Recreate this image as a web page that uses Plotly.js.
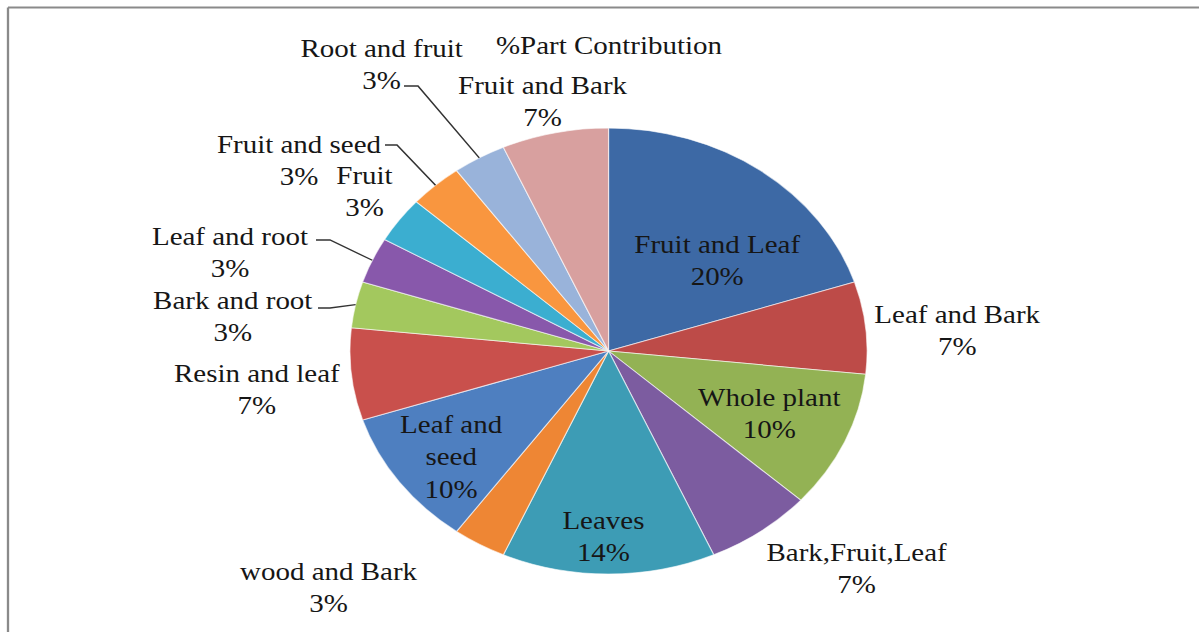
<!DOCTYPE html>
<html>
<head>
<meta charset="utf-8">
<script src="https://cdn.plot.ly/plotly-3.0.1.min.js"></script>
<style>
  html, body { margin: 0; padding: 0; background: #ffffff; overflow: hidden; }
  #wrap { width: 1199px; height: 632px; overflow: hidden; position: relative; background: #ffffff; }
  #chart { width: 1034px; height: 632px; transform-origin: 0 0; transform: scaleX(1.15957); }
</style>
</head>
<body>
<div id="wrap"><div id="chart"></div></div>
<script>
// ---------------- data ----------------
const categories = [
  'Fruit and Leaf', 'Leaf and Bark', 'Whole plant', 'Bark,Fruit,Leaf', 'Leaves',
  'wood and Bark', 'Leaf and seed', 'Resin and leaf', 'Bark and root', 'Leaf and root',
  'Fruit', 'Fruit and seed', 'Root and fruit', 'Fruit and Bark'
];
const partCounts = [6, 2, 3, 2, 4, 1, 3, 2, 1, 1, 1, 1, 1, 2];
const percentLabels = ['20%', '7%', '10%', '7%', '14%', '3%', '10%', '7%', '3%', '3%', '3%', '3%', '3%', '7%'];
const chartTitle = '%Part Contribution';

// ---------------- style / layout ----------------
const sliceColors = [
  '#3D69A5', '#BD4B48', '#93B254', '#7C5CA0', '#3D9CB5', '#EE8634', '#4E7FC0',
  '#C9504C', '#A3C85E', '#8858AB', '#3BAED0', '#F9963F', '#99B3DA', '#D8A09F'
];

const FULL_W = 1199, H = 632, PLOT_W = 1034, SX = FULL_W / PLOT_W;
const PIE_CX = 524.8, PIE_CY = 351, PIE_R = 223;   // rendered px (before horizontal stretch)
const FONT = '"Liberation Serif", "Times New Roman", serif';

// label block centres in final-image px; optional line breaks and leader start points
const labelLayout = [
  { at: [718, 261] },
  { at: [957, 331] },
  { at: [769, 414] },
  { at: [857, 569] },
  { at: [604, 537] },
  { at: [329, 588] },
  { at: [452, 457], lines: ['Leaf and', 'seed'] },
  { at: [258, 390] },
  { at: [233, 317], leader: [[318, 308], [330, 308]] },
  { at: [230, 253], leader: [[316, 240], [330, 240]] },
  { at: [365, 192] },
  { at: [299, 161], leader: [[385, 145], [397, 145]] },
  { at: [381, 65],  leader: [[404, 86], [418, 86]] },
  { at: [543, 102] }
];

const px2x = px => (px / SX) / PLOT_W;     // final-image px -> paper x
const rx2x = rx => rx / PLOT_W;            // rendered px -> paper x
const py2y = py => 1 - py / H;             // px -> paper y

const total = partCounts.reduce((a, b) => a + b, 0);
let cum = 0;
const midAngles = partCounts.map(v => { const m = (cum + v / 2) / total * 2 * Math.PI; cum += v; return m; });

const annotations = [];
const shapes = [];
categories.forEach((cat, i) => {
  const L = labelLayout[i];
  const lines = (L.lines || [cat]).concat([percentLabels[i]]);
  annotations.push({
    xref: 'paper', yref: 'paper',
    x: px2x(L.at[0]), y: py2y(L.at[1]),
    xanchor: 'center', yanchor: 'middle', align: 'center',
    text: lines.join('<br>'), showarrow: false,
    font: { family: FONT, size: 25, color: '#161616' }
  });
  if (L.leader) {
    const a = midAngles[i];
    const ex = PIE_CX + PIE_R * Math.sin(a);
    const ey = PIE_CY - PIE_R * Math.cos(a);
    const pts = L.leader.map(p => [px2x(p[0]), py2y(p[1])]).concat([[rx2x(ex), py2y(ey)]]);
    shapes.push({
      type: 'path', xref: 'paper', yref: 'paper',
      path: 'M ' + pts.map(p => p[0] + ',' + p[1]).join(' L '),
      line: { color: '#333333', width: 1.3 }
    });
  }
});

// chart frame (top and left edges visible in the picture)
shapes.push({ type: 'line', xref: 'paper', yref: 'paper', x0: px2x(8), x1: 1, y0: py2y(7.5), y1: py2y(7.5), line: { color: '#8a8a8a', width: 2 } });
shapes.push({ type: 'line', xref: 'paper', yref: 'paper', x0: px2x(8), x1: px2x(8), y0: py2y(7.5), y1: 0, line: { color: '#8a8a8a', width: 2 } });

const trace = {
  type: 'pie',
  labels: categories,
  values: partCounts,
  sort: false,
  direction: 'clockwise',
  rotation: 0,
  textinfo: 'none',
  hoverinfo: 'label+value',
  showlegend: false,
  marker: { colors: sliceColors, line: { color: 'rgba(255,255,255,0.6)', width: 1 } },
  domain: {
    x: [rx2x(PIE_CX - PIE_R), rx2x(PIE_CX + PIE_R)],
    y: [py2y(PIE_CY + PIE_R), py2y(PIE_CY - PIE_R)]
  }
};

const layout = {
  width: PLOT_W, height: H, autosize: false,
  margin: { l: 0, r: 0, t: 0, b: 0, pad: 0 },
  paper_bgcolor: '#ffffff', plot_bgcolor: '#ffffff',
  showlegend: false,
  title: {
    text: chartTitle, x: px2x(609), y: py2y(45), xanchor: 'center', yanchor: 'middle',
    font: { family: FONT, size: 25, color: '#161616' }
  },
  annotations: annotations,
  shapes: shapes
};

Plotly.newPlot('chart', [trace], layout, { displayModeBar: false, responsive: false });
</script>
</body>
</html>
